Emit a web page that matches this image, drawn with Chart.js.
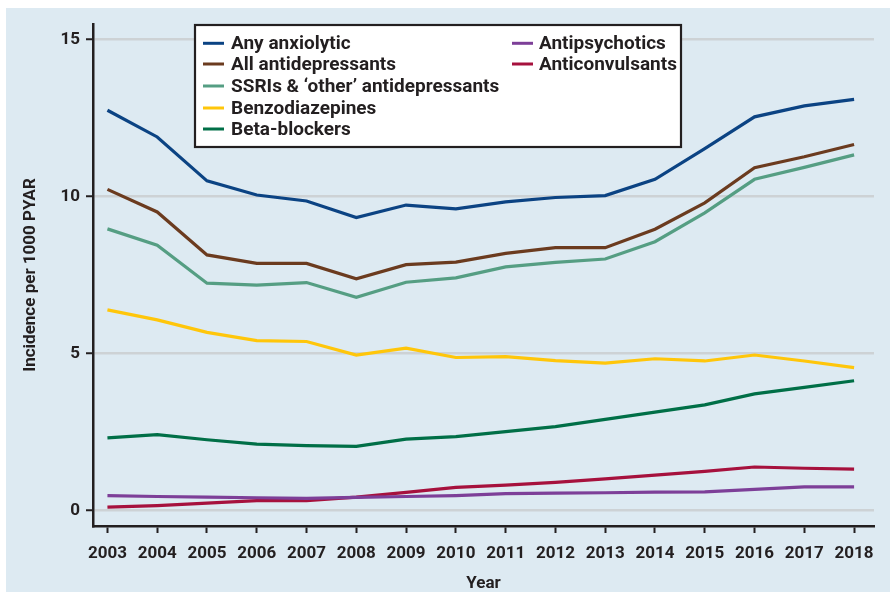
<!DOCTYPE html>
<html>
<head>
<meta charset="utf-8">
<script src="https://cdn.jsdelivr.net/npm/chart.js@4.4.1/dist/chart.umd.min.js"></script>
<style>
  html, body { margin: 0; padding: 0; background: #ffffff; }
  #wrap { width: 890px; height: 592px; }
</style>
</head>
<body>
<div id="wrap"><canvas id="c" width="890" height="592"></canvas></div>
<script>
const years = [2003, 2004, 2005, 2006, 2007, 2008, 2009, 2010, 2011, 2012, 2013, 2014, 2015, 2016, 2017, 2018];
const yTicks = [0, 5, 10, 15];

const anyAnxiolytic      = [12.75, 11.9, 10.50, 10.05, 9.86, 9.33, 9.73, 9.61, 9.83, 9.97, 10.03, 10.55, 11.53, 12.54, 12.89, 13.10];
const allAntidepressants = [10.23, 9.51, 8.14, 7.87, 7.87, 7.38, 7.83, 7.91, 8.19, 8.37, 8.37, 8.96, 9.80, 10.92, 11.27, 11.66];
const ssris              = [8.97, 8.45, 7.24, 7.18, 7.26, 6.79, 7.27, 7.41, 7.76, 7.90, 8.01, 8.56, 9.48, 10.55, 10.93, 11.33];
const benzodiazepines    = [6.39, 6.07, 5.67, 5.41, 5.38, 4.95, 5.17, 4.87, 4.90, 4.77, 4.69, 4.83, 4.76, 4.95, 4.76, 4.55];
const betaBlockers       = [2.31, 2.41, 2.25, 2.11, 2.06, 2.04, 2.27, 2.35, 2.51, 2.67, 2.90, 3.13, 3.36, 3.71, 3.92, 4.13];
const antipsychotics     = [0.47, 0.44, 0.42, 0.40, 0.38, 0.41, 0.44, 0.47, 0.53, 0.55, 0.56, 0.58, 0.59, 0.67, 0.75, 0.75];
const anticonvulsants    = [0.10, 0.15, 0.23, 0.31, 0.31, 0.42, 0.57, 0.73, 0.80, 0.89, 1.00, 1.12, 1.24, 1.38, 1.34, 1.31];

const seriesNames = ['Any anxiolytic', 'All antidepressants', 'SSRIs & \u2018other\u2019 antidepressants', 'Benzodiazepines', 'Beta-blockers', 'Antipsychotics', 'Anticonvulsants'];
const seriesValues = [anyAnxiolytic, allAntidepressants, ssris, benzodiazepines, betaBlockers, antipsychotics, anticonvulsants];
const seriesColors = ['#0b4383', '#6b3b1f', '#559e83', '#ffc60a', '#006f47', '#7d3f98', '#a6113d'];

const TEXT = '#231f20';
const FONT = 'Roboto';

const datasets = seriesNames.map((name, i) => ({
  label: name,
  data: years.map((yr, j) => ({ x: yr, y: seriesValues[i][j] })),
  borderColor: seriesColors[i],
  backgroundColor: seriesColors[i],
  borderWidth: 3.2,
  pointRadius: 0,
  fill: false,
  tension: 0,
  order: i === 5 ? 0 : i + 1
}));

const bgPlugin = {
  id: 'bg',
  beforeDraw(chart) {
    const ctx = chart.ctx;
    ctx.save();
    ctx.fillStyle = '#ffffff';
    ctx.fillRect(0, 0, chart.width, chart.height);
    ctx.fillStyle = '#ddeaf2';
    ctx.fillRect(6, 8, chart.width - 6, chart.height - 8);
    ctx.restore();
  }
};

const legendBox = {
  id: 'legendBox',
  afterDraw(chart) {
    const ctx = chart.ctx;
    const box = { x: 195, y: 25, w: 486, h: 122 };
    ctx.save();
    ctx.fillStyle = '#ffffff';
    ctx.fillRect(box.x, box.y, box.w, box.h);
    ctx.strokeStyle = TEXT;
    ctx.lineWidth = 2.2;
    ctx.strokeRect(box.x, box.y, box.w, box.h);
    const cols = [{ lx: 203, tx: 231 }, { lx: 512, tx: 539 }];
    const rows = [43.3, 64, 86, 108, 129];
    ctx.font = 'bold 19px ' + FONT;
    ctx.textBaseline = 'middle';
    ctx.textAlign = 'left';
    chart.data.datasets.forEach((ds, i) => {
      const col = i < 5 ? cols[0] : cols[1];
      const ry = i < 5 ? rows[i] : rows[i - 5];
      ctx.strokeStyle = ds.borderColor;
      ctx.lineWidth = 3;
      ctx.beginPath();
      ctx.moveTo(col.lx, ry);
      ctx.lineTo(col.lx + 21, ry);
      ctx.stroke();
      ctx.fillStyle = TEXT;
      ctx.fillText(ds.label, col.tx, ry + 1);
    });
    ctx.restore();
  }
};

new Chart(document.getElementById('c'), {
  type: 'line',
  data: { datasets },
  plugins: [bgPlugin, legendBox],
  options: {
    responsive: false,
    animation: false,
    devicePixelRatio: 1,
    layout: { padding: { top: 24, right: 16, left: 0, bottom: 0 } },
    plugins: { legend: { display: false }, tooltip: { enabled: false } },
    scales: {
      x: {
        type: 'linear',
        min: 2002.71,
        max: 2018.4,
        afterFit(scale) { scale.height = 66; },
        afterBuildTicks(scale) { scale.ticks = years.map(v => ({ value: v })); },
        ticks: {
          color: TEXT,
          font: { family: FONT, size: 17, weight: 'bold' },
          padding: 11,
          maxRotation: 0,
          autoSkip: false,
          callback: v => String(v)
        },
        grid: { drawOnChartArea: false, drawTicks: true, tickLength: 7, tickColor: TEXT, tickWidth: 2 },
        border: { display: true, color: TEXT, width: 2.5 },
        title: {
          display: true,
          text: 'Year',
          color: TEXT,
          font: { family: FONT, size: 17, weight: 'bold' },
          padding: { top: 0, bottom: -2 }
        }
      },
      y: {
        type: 'linear',
        min: -0.5,
        max: 15.5,
        afterFit(scale) { scale.width = 93; },
        afterBuildTicks(scale) { scale.ticks = yTicks.map(v => ({ value: v })); },
        ticks: {
          color: TEXT,
          font: { family: FONT, size: 17, weight: 'bold' },
          padding: 6,
          callback: v => String(v)
        },
        grid: { color: '#cdd2d5', lineWidth: 2.5, drawTicks: true, tickLength: 7, tickColor: TEXT, tickWidth: 2 },
        border: { display: true, color: TEXT, width: 2.5 },
        title: {
          display: true,
          text: 'Incidence per 1000 PYAR',
          color: TEXT,
          font: { family: FONT, size: 17, weight: 'bold' },
          padding: { top: 21, bottom: 0 }
        }
      }
    }
  }
});
</script>
</body>
</html>
